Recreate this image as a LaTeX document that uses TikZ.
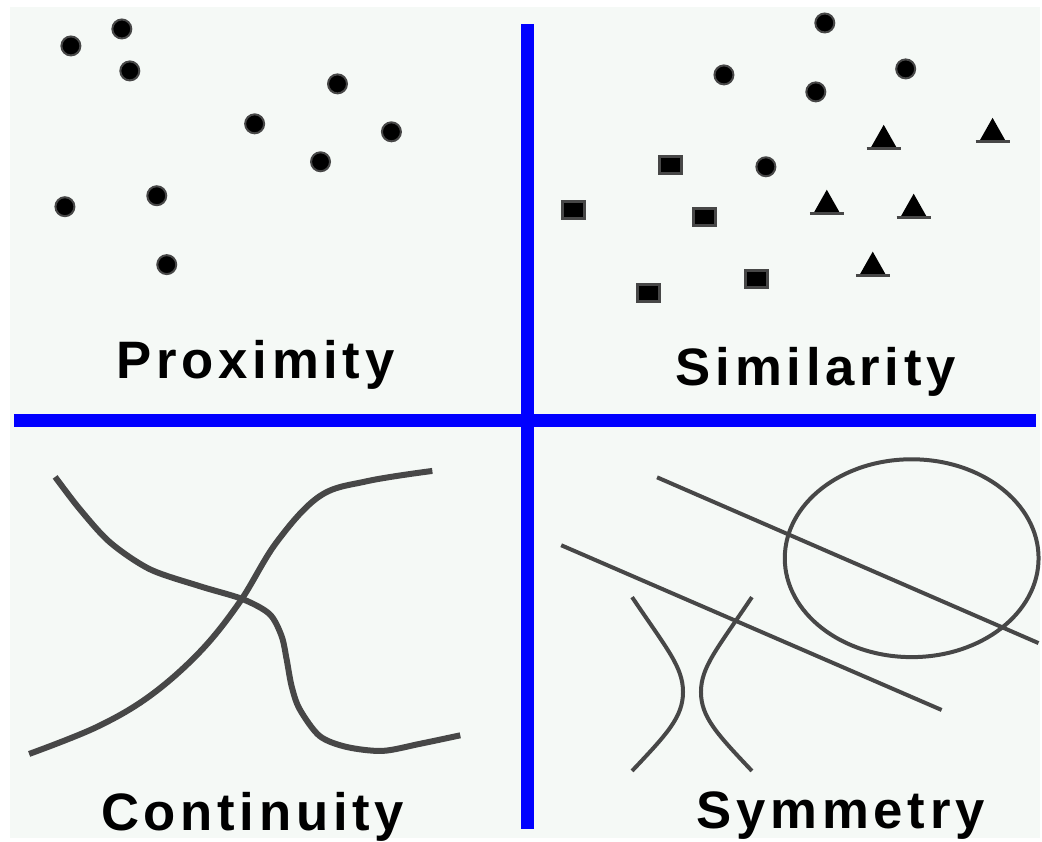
\documentclass[tikz,border=0pt]{standalone}
\usepackage{fontspec}
\setmainfont{Liberation Sans}
\newfontfamily\lblfont[LetterSpace=9]{Liberation Sans}
\usepackage{tikz}
\usetikzlibrary{calc}
\definecolor{paper}{RGB}{245,249,246}
\definecolor{inkgray}{RGB}{71,71,71}
\definecolor{ruleblue}{RGB}{0,0,255}

\begin{document}
\begin{tikzpicture}[x=0.01cm, y=-0.01cm,
  rule/.style={ruleblue, line width=1.3mm},
  dot/.style={fill=black, draw=inkgray, line width=0.2mm},
  sqr/.style={fill=black, draw=inkgray, line width=0.3mm},
  tri/.style={fill=black},
  triline/.style={inkgray, line width=0.3mm},
  contline/.style={inkgray, line width=0.6mm, line cap=rect},
  symline/.style={inkgray, line width=0.4mm},
  lbl/.style={font=\lblfont\bfseries\fontsize{15}{18}\selectfont, anchor=base, inner sep=0pt}]
% frame
\fill[white] (0,0) rectangle (1042,842);
\fill[paper] (10,7) rectangle (1042,839);
\draw[rule] (528,24) -- (528,830);
\draw[rule] (14,421) -- (1037,421);
% proximity
\foreach \x/\y in {71/46, 122/29, 130/71, 338/84, 255/124, 392/132, 321/162, 157/196, 65/207, 167/265}
  \draw[dot] (\x,\y) circle (0.95mm);
\node[lbl] (prox) at (256,379) {Proximity};
% similarity
\foreach \x/\y in {826/23, 725/75, 907/69, 817/92, 767/167}
  \draw[dot] (\x,\y) circle (0.95mm);
\foreach \x/\y in {671/165, 574/210, 706/217, 758/279, 649/293}
  \draw[sqr] (\x-11,\y-8.5) rectangle (\x+11,\y+8.5);
\foreach \x/\y in {885/148, 994/141, 828/213, 915/217, 874/275}
  {\fill[tri] (\x-13,\y) -- (\x,\y-23) -- (\x+13,\y) -- cycle;
   \draw[triline] (\x-17,\y+1) -- (\x+17,\y+1);}
\node[lbl] (simil) at (817,386) {Similarity};
% continuity
\draw[contline] plot[smooth, tension=0.5] coordinates {(57,480) (80,510) (110,543) (150,570) (200,587) (243,600) (270,615) (282,637) (287,660) (292,687) (300,710) (320,737) (347,748) (383,752) (420,745) (458,737)};
\draw[contline] plot[smooth, tension=0.6] coordinates {(32,754) (97,728) (150,697) (200,653) (240,603) (277,543) (320,497) (367,482) (430,472)};
\node[lbl] (cont) at (253,832) {Continuity};
% symmetry
\draw[symline] (658,478) -- (1040,644);
\draw[symline] (562,546) -- (943,711);
\draw[symline] (913,559) ellipse [x radius=1.27cm, y radius=0.99cm];
\draw[symline] (633,598) .. controls (668,650) and (684,668) .. (684,693) .. controls (684,718) and (668,735) .. (633,772);
\draw[symline] (753,598) .. controls (718,650) and (702,668) .. (702,693) .. controls (702,718) and (718,735) .. (753,772);
\node[lbl] (symm) at (842,830) {Symmetry};
\end{tikzpicture}
\end{document}
